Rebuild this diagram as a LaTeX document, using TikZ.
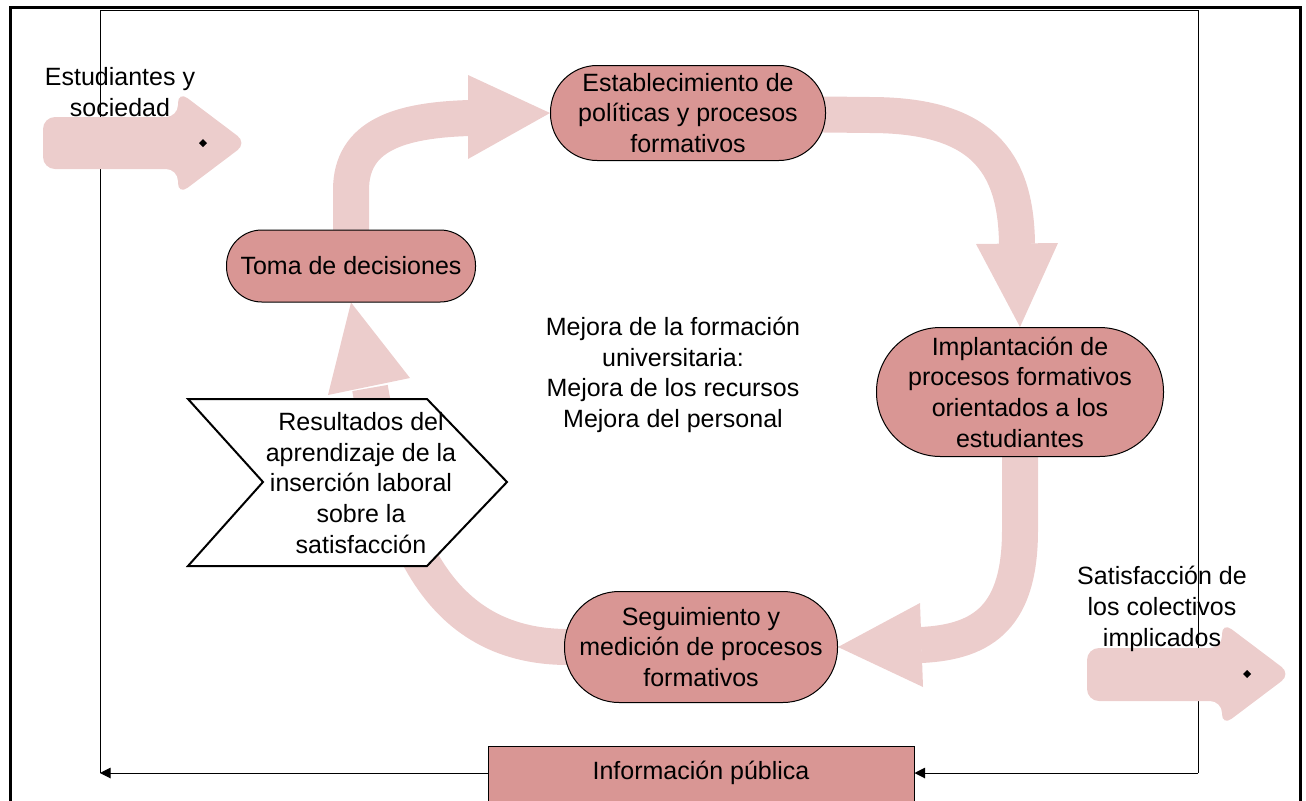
\documentclass[tikz,border=0pt]{standalone}
\usepackage{fontspec}
\setmainfont{Liberation Sans}
\usetikzlibrary{arrows.meta}
\definecolor{nodefill}{RGB}{217,150,148}
\definecolor{palearrow}{RGB}{236,205,204}
\pgfdeclarelayer{framelayer}
\pgfdeclarelayer{bandlayer}
\pgfsetlayers{framelayer,bandlayer,main}
\begin{document}
\begin{tikzpicture}[x=0.75pt,y=-0.75pt,
  txt/.style={font=\fontsize{18.75}{23}\selectfont, align=center, inner sep=0pt},
  pill/.style={txt, draw=black, line width=0.75pt, fill=nodefill},
  band/.style={draw=palearrow, line width=27pt},
  bandhead/.style={fill=palearrow},
  blockarrow/.style={fill=palearrow, rounded corners=9pt},
  frameline/.style={draw=black, line width=0.75pt},
  framearrow/.style={frameline, -{Triangle[length=8pt,width=8pt]}},
  chevronbox/.style={draw=black, line width=1.5pt, fill=white, line join=miter}
  ]
\useasboundingbox (0,0) rectangle (1306,800);

% ---------- nodes ----------
\node[pill, minimum width=206.25pt, minimum height=71.25pt, rounded corners=35pt] (est) at (688,113)
  {Establecimiento de\\políticas y procesos\\formativos};
\node[pill, minimum width=215.25pt, minimum height=96.75pt, rounded corners=48pt] (impl) at (1020,392)
  {Implantación de\\procesos formativos\\orientados a los\\estudiantes};
\node[pill, minimum width=204.75pt, minimum height=83.25pt, rounded corners=41pt] (seg) at (701,647)
  {Seguimiento y\\medición de procesos\\formativos};
\node[pill, minimum width=186.75pt, minimum height=54pt, rounded corners=26.5pt] (toma) at (351,266)
  {Toma de decisiones};

\draw[chevronbox] (188,399) -- (427,399) -- (507,482) -- (427,566) -- (188,566) -- (263,482) -- cycle;
\node[txt] (result) at (361,483)
  {Resultados del\\aprendizaje de la\\inserción laboral\\sobre la\\satisfacción};

\node[txt] (mejora) at (673,375)
  {Mejora de la formación\\universitaria:\\Mejora de los recursos\\Mejora del personal};

\node[txt] (estud) at (120,92) {Estudiantes y\\sociedad};
\node[txt] (satis) at (1162,609) {Satisfacción de\\los colectivos\\implicados};

\node[draw=black, line width=0.75pt, fill=nodefill, minimum width=319.5pt, minimum height=45pt, inner sep=0pt] (info) at (701,776) {};
\node[txt] (infotxt) at (701,773) {Información pública};

% ---------- frame ----------
\coordinate (frameTL) at (100,10);
\coordinate (frameTR) at (1198,10);
\coordinate (frameBL) at (100,773);
\coordinate (frameBR) at (1198,773);
\begin{pgfonlayer}{framelayer}
\draw[line width=2.25pt] (10,7) rectangle (1300,812);
\draw[frameline] (frameBL) -- (frameTL) -- (frameTR) -- (frameBR);
\draw[framearrow] (frameBR) -- (infotxt -| info.east);
\draw[framearrow] (infotxt -| info.west) -- (frameBL);
\end{pgfonlayer}

% ---------- pale arrows ----------
\begin{pgfonlayer}{bandlayer}
% Toma -> Establecimiento
\draw[band] (toma.center) -- (351,190) .. controls (351,135) and (400,120) .. (470,118);
\fill[bandhead] (468,75) -- (est.west) -- (468,159) -- cycle;
% Establecimiento -> Implantacion
\draw[band] (est.center) -- (870,115) .. controls (980,115) and (1016,160) .. (1017,244);
\fill[bandhead] (976,244) -- (impl.north) -- (1058,243) -- cycle;
% Implantacion -> Seguimiento
\draw[band] (impl.center) -- (1020,530) .. controls (1020,615) and (985,642) .. (921,645);
\fill[bandhead] (920,603) -- (seg.east) -- (923,687) -- cycle;
% Seguimiento -> Toma
\draw[band] (seg.center) -- (570,647) .. controls (425,648) and (392,515) .. (370,388);
\fill[bandhead] (328,395) -- (toma.south) -- (410,378) -- cycle;

% block arrows
\fill[blockarrow] (43,117) -- (178,117) -- (178,91) -- (247,143) -- (178,195) -- (178,169) -- (43,169) -- cycle;
\fill[blockarrow] (1087,648) -- (1222,648) -- (1222,622) -- (1291,674) -- (1222,726) -- (1222,701) -- (1087,701) -- cycle;
\fill (203,139) -- (207,143) -- (203,147) -- (199,143) -- cycle;
\fill (1247,670) -- (1251,674) -- (1247,678) -- (1243,674) -- cycle;
\end{pgfonlayer}
\end{tikzpicture}
\end{document}
